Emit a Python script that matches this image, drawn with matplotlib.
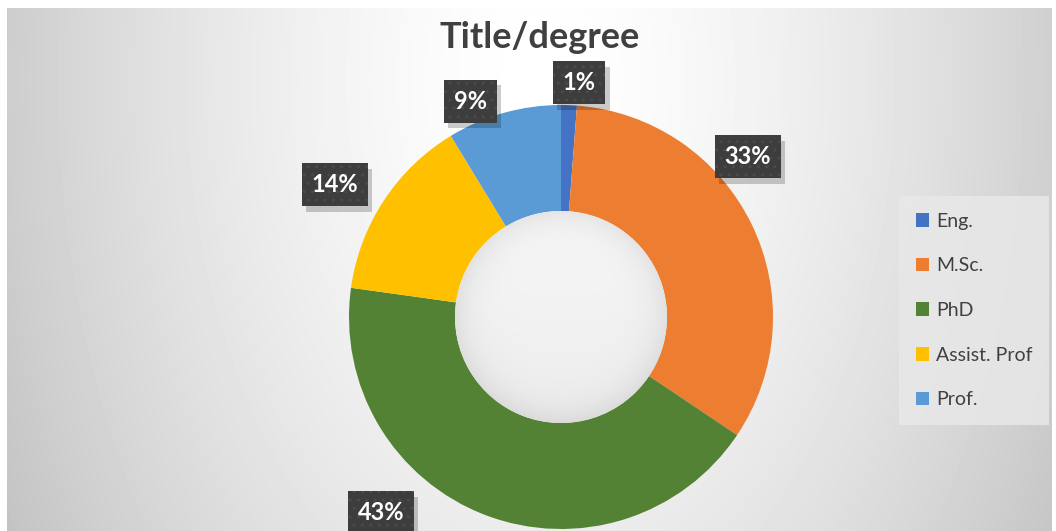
import numpy as np
import matplotlib.pyplot as plt
from matplotlib import patheffects
from matplotlib.patches import Circle

# data (percent of staff by title/degree)
categories = ['Eng.', 'M.Sc.', 'PhD', 'Assist. Prof', 'Prof.']
shares = [1.2, 33.2, 42.8, 14.1, 8.7]
colors = ['#4472C4', '#ED7D31', '#548235', '#FFC000', '#5B9BD5']

W, H = 1056, 531
fig = plt.figure(figsize=(W / 100, H / 100), dpi=100)
fig.patch.set_facecolor('white')
ax = fig.add_axes([0, 0, 1, 1])

# grey gradient background of the chart area (lighter towards the top centre)
x0, x1, y0, y1 = 7, 1052, 0, 523
xx, yy = np.meshgrid(np.arange(x0, x1), np.arange(y0, y1))
d = np.hypot((xx - 540) / 560.0, (yy - (H - 80)) / 900.0)
bg = 1 - 0.21 * d ** 1.5
ax.imshow(bg, cmap='gray', vmin=0, vmax=1, extent=(x0, x1, y0, y1),
          origin='lower', zorder=0, interpolation='bilinear')

# donut
center = (561, H - 317)
R = 212
wedges, _ = ax.pie(shares, colors=colors, startangle=90, counterclock=False,
                   radius=R, center=center,
                   wedgeprops=dict(width=R * 0.5, linewidth=0))
for w in wedges:
    w.set_zorder(2)

# shaded hole
r_in = R * 0.5
hx, hy = np.meshgrid(np.arange(center[0] - r_in, center[0] + r_in),
                     np.arange(center[1] - r_in, center[1] + r_in))
rr = np.hypot(hx - center[0], hy - center[1]) / r_in
hole = 0.945 - 0.07 * np.clip(rr, 0, 1) ** 6 - 0.02 * (center[1] - hy) / r_in
im = ax.imshow(hole, cmap='gray', vmin=0, vmax=1,
               extent=(center[0] - r_in, center[0] + r_in, center[1] - r_in, center[1] + r_in),
               origin='lower', zorder=2.5, interpolation='bilinear')
clip = Circle(center, r_in, transform=ax.transData)
im.set_clip_path(clip)

# data labels (angle clockwise from top, distance from centre in px)
label_pos = [(4.4, 235), (49.4, 246), (222.6, 266), (300.3, 262), (337.2, 234)]
for val, (ang, dist) in zip(shares, label_pos):
    a = np.deg2rad(ang)
    lx = center[0] + dist * np.sin(a)
    ly = center[1] + dist * np.cos(a)
    t = ax.text(lx, ly, f'{round(val):.0f}%', fontsize=17, fontweight='bold',
                family='Lato', color='white', ha='center', va='center', zorder=4,
                bbox=dict(boxstyle='square,pad=0.42', fc='#3d3d3d', ec='#4a4a4a',
                          lw=0, hatch='..'))
    t.get_bbox_patch().set_path_effects([
        patheffects.SimplePatchShadow(offset=(3, -4), shadow_rgbFace='black',
                                      alpha=0.2, hatch=None),
        patheffects.Normal()])

ax.set_xlim(0, W)
ax.set_ylim(0, H)
ax.set_aspect('auto')
ax.axis('off')

ax.text(540, H - 37, 'Title/degree', fontsize=26, fontweight='bold', family='Lato',
        color='#404040', ha='center', va='center', zorder=5)

leg = ax.legend(wedges, categories, loc='upper left',
                bbox_to_anchor=(905 / W, 1 - 202 / H), frameon=True,
                prop=dict(family='Lato', size=14), labelcolor='#404040',
                handlelength=0.7, handleheight=0.7, handletextpad=0.35,
                labelspacing=1.42, borderpad=0.55, borderaxespad=0)
fr = leg.get_frame()
fr.set_facecolor('#e8e8e8')
fr.set_alpha(0.85)
fr.set_edgecolor('none')
fr.set_boxstyle('square')
leg.set_zorder(6)

fig.savefig('out.png', dpi=100)
